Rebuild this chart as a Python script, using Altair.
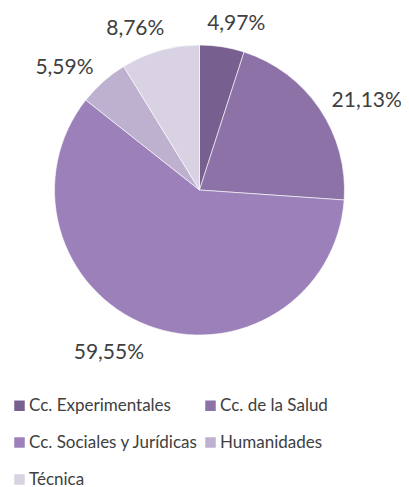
import altair as alt
import pandas as pd

categories = ["Cc. Experimentales", "Cc. de la Salud", "Cc. Sociales y Jurídicas", "Humanidades", "Técnica"]
values = [4.97, 21.13, 59.55, 5.59, 8.76]
labels = ["4,97%", "21,13%", "59,55%", "5,59%", "8,76%"]
colors = ["#77608F", "#8C72A6", "#9B80BA", "#BEB1CF", "#D9D2E3"]

df = pd.DataFrame({"cat": categories, "value": values, "label": labels, "idx": list(range(len(categories)))})

CX, CY, R = 191.5, 182, 145
R0 = 162

base = alt.Chart(df)

arcs = base.mark_arc(radius=R, stroke="white", strokeWidth=0.6).encode(
    theta=alt.Theta("value:Q", stack=True),
    order=alt.Order("idx:Q"),
    color=alt.Color(
        "cat:N",
        scale=alt.Scale(domain=categories, range=colors),
        sort=categories,
        legend=alt.Legend(
            title=None, orient="none", legendX=3, legendY=389, columns=2,
            direction="horizontal",
            symbolType="square", symbolSize=110, symbolStrokeWidth=0,
            labelFont="Lato", labelFontSize=17, labelColor="#404040",
            rowPadding=19, columnPadding=3, labelOffset=1, padding=0,
            labelLimit=400,
        ),
    ),
    x=alt.value(CX),
    y=alt.value(CY),
)

texts = (
    base.transform_window(cum="sum(value)", sort=[alt.SortField("idx")], frame=[None, 0])
    .transform_joinaggregate(total="sum(value)")
    .transform_calculate(mid="(datum.cum - datum.value/2)/datum.total*2*PI")
    .transform_calculate(
        w="length(datum.label)*11",
        px=f"{CX} + {R0}*sin(datum.mid)",
        py=f"{CY} - {R0}*cos(datum.mid)",
    )
    .transform_calculate(
        lx="datum.px + clamp(2.7*sin(datum.mid), -1, 1)*datum.w/2",
        ly="datum.py - pow(cos(datum.mid), 3)*10 + 3.5",
    )
    .mark_text(font="Lato", fontSize=21, color="#404040", align="center", baseline="middle")
    .encode(
        x=alt.X("lx:Q", scale=None),
        y=alt.Y("ly:Q", scale=None),
        text="label:N",
    )
)

chart = (
    alt.layer(arcs, texts)
    .properties(width=393, height=479, autosize=alt.AutoSizeParams(type="none"), padding=0)
    .configure_view(stroke=None)
)

chart.save("out.html", embed_options={"renderer": "svg", "actions": False})
